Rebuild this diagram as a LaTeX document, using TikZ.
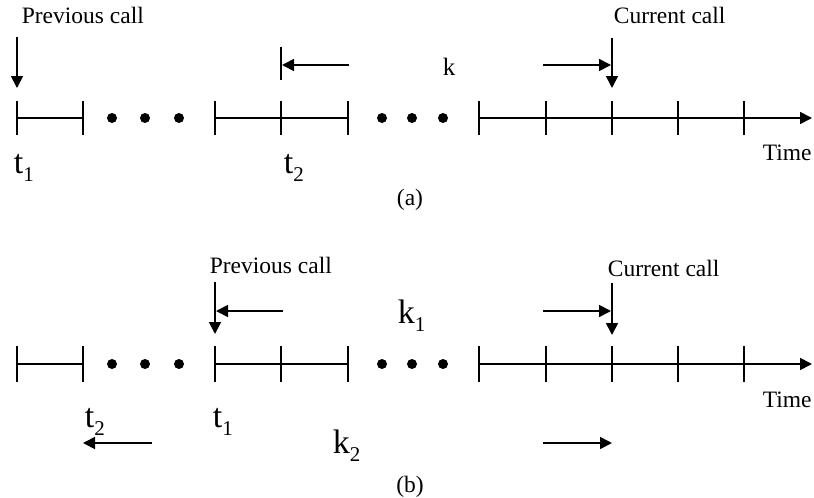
\documentclass[tikz,border=0pt]{standalone}
\usepackage{fontspec}
\setmainfont{Liberation Serif}
\usetikzlibrary{arrows.meta}
\begin{document}
\begin{tikzpicture}[x=1pt,y=-1pt,line width=1.7pt,
  lbl/.style={inner sep=0pt,font=\fontsize{23.5}{26}\selectfont},
  big/.style={inner sep=0pt,font=\fontsize{34}{36}\selectfont},
  klbl/.style={inner sep=0pt,font=\fontsize{25}{28}\selectfont},
  dotnode/.style={circle,fill=black,inner sep=0pt,minimum size=10pt},
  arr/.style={-{Triangle[length=12pt,width=12pt]}},
  tickmark/.style={line width=1.7pt}]
\useasboundingbox (0,0) rectangle (814,498);
\newcommand{\sbs}[1]{\raisebox{-8pt}{\fontsize{21}{22}\selectfont #1}}
% ---------- (a) ----------
\foreach \n/\x in {0/17,1/83,2/215,3/281,4/348,5/479,6/546,7/612,8/678,9/744}
  {\coordinate (a\n) at (\x,118);
   \draw[tickmark] (\x,101) -- (\x,135);}
\coordinate (ae) at (812,118);
\draw (a0) -- (a1);
\draw (a2) -- (a4);
\draw[arr] (a5) -- (ae);
\foreach \n/\x in {1/112,2/145,3/179,4/382,5/412,6/443}
  \node[dotnode] (ad\n) at (\x,118) {};
\node[lbl,anchor=base west] (aprev) at (21,23) {Previous call};
\coordinate (aps) at (17,37);
\coordinate (ape) at (17,88);
\draw[arr] (aps) -- (ape);
\node[lbl,anchor=base west] (acur) at (613,23) {Current call};
\coordinate (acs) at (612,38);
\coordinate (ace) at (612,88);
\draw[arr] (acs) -- (ace);
\node[big,anchor=base west] (at1) at (13,173) {t\sbs{1}};
\node[big,anchor=base west] (at2) at (283,173) {t\sbs{2}};
\node[klbl,anchor=base west] (ak) at (442,75) {k};
\coordinate (abt) at (281,47);
\coordinate (abb) at (281,80);
\draw (abt) -- (abb);
\coordinate (als) at (349,65);
\coordinate (ale) at (282,65);
\draw[arr] (als) -- (ale);
\coordinate (ars) at (543,65);
\coordinate (are) at (611,65);
\draw[arr] (ars) -- (are);
\node[lbl,anchor=base west] (atime) at (762,160) {Time};
\node[lbl,anchor=base] (acap) at (410,205) {(a)};
% ---------- (b) ----------
\foreach \n/\x in {0/17,1/83,2/215,3/281,4/348,5/479,6/546,7/612,8/678,9/744}
  {\coordinate (b\n) at (\x,364);
   \draw[tickmark] (\x,346) -- (\x,382);}
\coordinate (be) at (812,364);
\draw (b0) -- (b1);
\draw (b2) -- (b4);
\draw[arr] (b5) -- (be);
\foreach \n/\x in {1/112,2/145,3/179,4/382,5/412,6/443}
  \node[dotnode] (bd\n) at (\x,364) {};
\node[lbl,anchor=base west] (bprev) at (209,273) {Previous call};
\coordinate (bps) at (215,282);
\coordinate (bpe) at (215,334);
\draw[arr] (bps) -- (bpe);
\node[lbl,anchor=base west] (bcur) at (607,276) {Current call};
\coordinate (bcs) at (612,283);
\coordinate (bce) at (612,335);
\draw[arr] (bcs) -- (bce);
\coordinate (bls) at (283,311);
\coordinate (ble) at (216,311);
\draw[arr] (bls) -- (ble);
\coordinate (brs) at (543,311);
\coordinate (bre) at (611,311);
\draw[arr] (brs) -- (bre);
\node[big,anchor=base west] (bk1) at (397,323) {k\sbs{1}};
\node[big,anchor=base west] (bt2) at (84,427) {t\sbs{2}};
\node[big,anchor=base west] (bt1) at (212,427) {t\sbs{1}};
\coordinate (bbls) at (152,443);
\coordinate (bble) at (83,443);
\draw[arr] (bbls) -- (bble);
\coordinate (bbrs) at (543,443);
\coordinate (bbre) at (612,443);
\draw[arr] (bbrs) -- (bbre);
\node[big,anchor=base west] (bk2) at (332,453) {k\sbs{2}};
\node[lbl,anchor=base west] (btime) at (762,407) {Time};
\node[lbl,anchor=base] (bcap) at (410,492) {(b)};
\end{tikzpicture}
\end{document}
